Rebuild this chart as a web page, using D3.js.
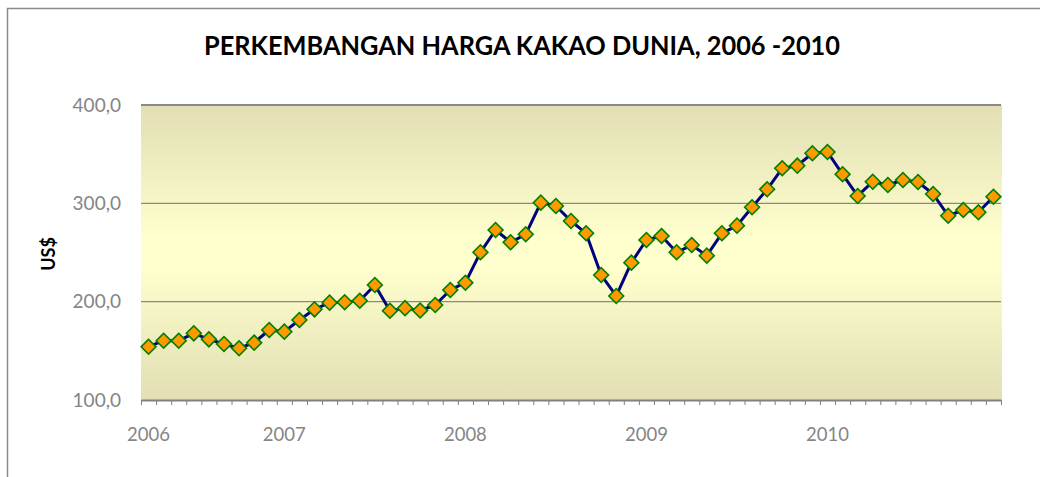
<!DOCTYPE html>
<html>
<head>
<meta charset="utf-8">
<script src="https://cdn.jsdelivr.net/npm/d3@7"></script>
<style>
  html, body { margin: 0; padding: 0; background: #ffffff; }
  svg { display: block; }
</style>
</head>
<body>
<svg id="chart" width="1040" height="477"></svg>
<script>
// ---- Data (Apr 2006 – Dec 2010, monthly) ----
const months = [
  "2006-04","2006-05","2006-06","2006-07","2006-08","2006-09","2006-10","2006-11","2006-12",
  "2007-01","2007-02","2007-03","2007-04","2007-05","2007-06","2007-07","2007-08","2007-09","2007-10","2007-11","2007-12",
  "2008-01","2008-02","2008-03","2008-04","2008-05","2008-06","2008-07","2008-08","2008-09","2008-10","2008-11","2008-12",
  "2009-01","2009-02","2009-03","2009-04","2009-05","2009-06","2009-07","2009-08","2009-09","2009-10","2009-11","2009-12",
  "2010-01","2010-02","2010-03","2010-04","2010-05","2010-06","2010-07","2010-08","2010-09","2010-10","2010-11","2010-12"
];
const prices = [
  154.2,160.3,160.3,167.8,161.7,157.0,152.6,158.3,171.2,
  169.5,181.4,192.2,199.0,199.4,201.0,217.0,190.8,193.4,191.0,196.6,211.9,
  219.3,250.2,272.9,260.4,268.5,300.7,297.3,282.0,269.5,227.1,205.8,239.7,
  262.7,266.8,250.2,257.6,246.8,269.5,277.3,296.0,314.3,335.6,338.3,350.9,
  352.2,329.5,307.5,322.0,318.6,323.7,321.7,309.5,287.4,293.2,290.9,306.7
];
const yearLabels = ["2006","2007","2008","2009","2010"];
const yearLabelIndex = [0, 9, 21, 33, 45];
const yTicks = [100, 200, 300, 400];
const titleText = "PERKEMBANGAN HARGA KAKAO DUNIA, 2006 -2010";
const yAxisTitle = "US$";

// ---- Layout ----
const svg = d3.select("#chart");
const plot = { left: 141, right: 1001, top: 105, bottom: 400 };

// chart frame (extends past the picture on right/bottom)
svg.append("rect")
  .attr("x", 7.5).attr("y", 8.5)
  .attr("width", 1100).attr("height", 600)
  .attr("fill", "#ffffff")
  .attr("stroke", "#8c8c8c").attr("stroke-width", 1.5);

// gradient
const defs = svg.append("defs");
const grad = defs.append("linearGradient")
  .attr("id", "bg").attr("x1", 0).attr("y1", 0).attr("x2", 0).attr("y2", 1);
grad.append("stop").attr("offset", "0%").attr("stop-color", "#e1dfb3");
grad.append("stop").attr("offset", "45%").attr("stop-color", "#fffecd");
grad.append("stop").attr("offset", "55%").attr("stop-color", "#fffecd");
grad.append("stop").attr("offset", "100%").attr("stop-color", "#e1dfb3");

// ---- Scales ----
const n = prices.length;
const xb = d3.scaleLinear().domain([0, n]).range([plot.left, plot.right]);
const xc = i => xb(i + 0.5);
const y = d3.scaleLinear().domain([100, 400]).range([plot.bottom, plot.top]);

// plot background
svg.append("rect")
  .attr("x", plot.left).attr("y", plot.top)
  .attr("width", plot.right - plot.left + 1).attr("height", plot.bottom - plot.top)
  .attr("fill", "url(#bg)");

// gridlines
svg.append("g").selectAll("line")
  .data(yTicks.filter(v => v > 100))
  .join("line")
  .attr("x1", plot.left).attr("x2", plot.right)
  .attr("y1", d => y(d)).attr("y2", d => y(d))
  .attr("stroke", "#8a8a84")
  .attr("stroke-width", d => d === 400 ? 2 : 1.2);

// y axis labels
const yAxis = d3.axisLeft(y).tickValues(yTicks)
  .tickFormat(d => d3.format(".1f")(d).replace(".", ","))
  .tickSize(0).tickPadding(20);
const gy = svg.append("g").attr("transform", `translate(${plot.left},0)`).call(yAxis);
gy.select(".domain").remove();
gy.selectAll("text")
  .attr("fill", "#858585")
  .style("font-family", "Lato, 'Open Sans', sans-serif")
  .style("font-size", "19px");

// x axis (ticks between categories)
const xAxis = d3.axisBottom(xb).tickValues(d3.range(n + 1)).tickFormat("").tickSize(5).tickSizeOuter(0);
const gx = svg.append("g").attr("transform", `translate(0,${plot.bottom})`).call(xAxis);
gx.select(".domain").attr("stroke", "#808080").attr("stroke-width", 2);
gx.selectAll(".tick line").attr("stroke", "#808080").attr("stroke-width", 1);

// year labels
svg.append("g").selectAll("text")
  .data(yearLabels)
  .join("text")
  .attr("x", (d, i) => xc(yearLabelIndex[i]))
  .attr("y", 441)
  .attr("text-anchor", "middle")
  .attr("fill", "#858585")
  .style("font-family", "Lato, 'Open Sans', sans-serif")
  .style("font-size", "18.5px")
  .text(d => d);

// line
const line = d3.line().x((d, i) => xc(i)).y(d => y(d));
svg.append("path")
  .datum(prices)
  .attr("d", line)
  .attr("fill", "none")
  .attr("stroke", "#000080")
  .attr("stroke-width", 3)
  .attr("stroke-linejoin", "round");

// markers (diamonds)
const diamond = d3.symbol().type(d3.symbolSquare).size(110);
svg.append("g").selectAll("path")
  .data(prices)
  .join("path")
  .attr("d", diamond)
  .attr("transform", (d, i) => `translate(${xc(i)},${y(d)}) rotate(45)`)
  .attr("fill", "#ff9900")
  .attr("stroke", "#008000")
  .attr("stroke-width", 1.6);

// title
svg.append("text")
  .attr("x", 522).attr("y", 55)
  .attr("text-anchor", "middle")
  .attr("textLength", 636).attr("lengthAdjust", "spacingAndGlyphs")
  .style("font-family", "Lato, 'Open Sans', sans-serif")
  .style("font-weight", "bold")
  .style("font-size", "26px")
  .attr("fill", "#000000")
  .text(titleText);

// y axis title
svg.append("text")
  .attr("transform", "translate(55,254) rotate(-90)")
  .attr("text-anchor", "middle")
  .style("font-family", "Lato, 'Open Sans', sans-serif")
  .style("font-weight", "bold")
  .style("font-size", "18px")
  .attr("fill", "#000000")
  .text(yAxisTitle);
</script>
</body>
</html>
